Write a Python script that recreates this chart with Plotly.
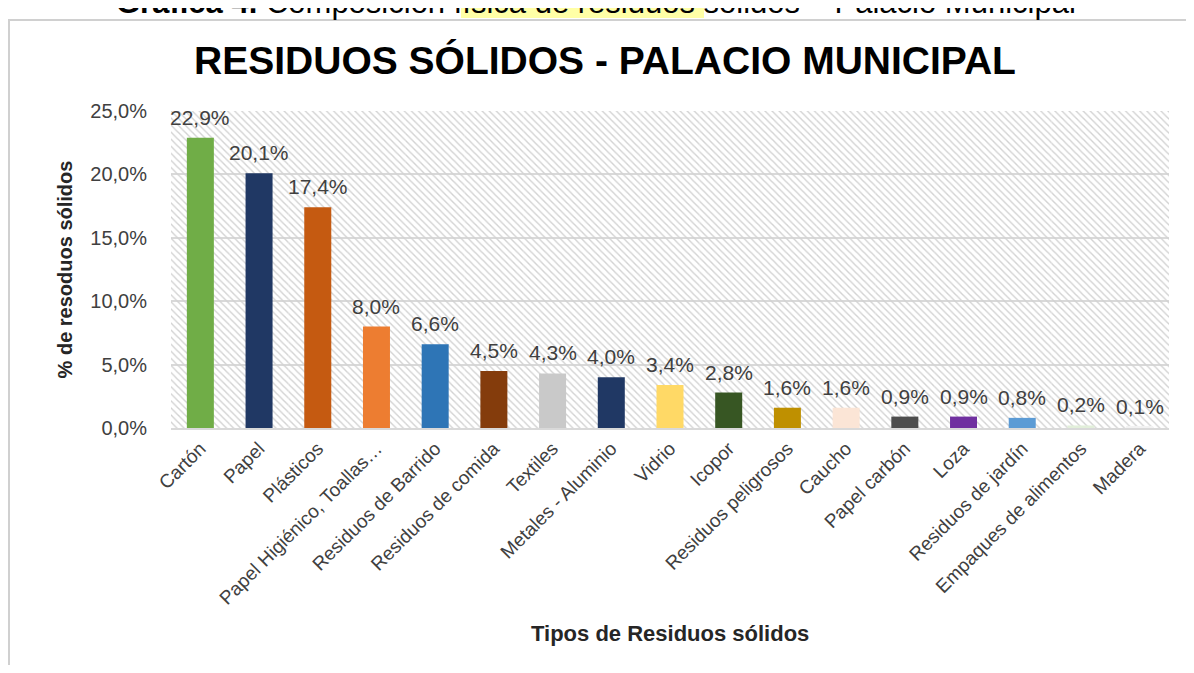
import plotly.graph_objects as go

# datos de la grafica
categorias = ["Cartón", "Papel", "Plásticos", "Papel Higiénico, Toallas…",
              "Residuos de Barrido", "Residuos de comida", "Textiles",
              "Metales - Aluminio", "Vidrio", "Icopor", "Residuos peligrosos",
              "Caucho", "Papel carbón", "Loza", "Residuos de jardín",
              "Empaques de alimentos", "Madera"]
porcentajes = [22.9, 20.1, 17.4, 8.0, 6.6, 4.5, 4.3, 4.0, 3.4, 2.8, 1.6, 1.6,
               0.9, 0.9, 0.8, 0.2, 0.1]
colores = ["#70AD47", "#203864", "#C55A11", "#ED7D31", "#2E75B6", "#843C0C",
           "#C9C9C9", "#203864", "#FFD966", "#375623", "#BF9000", "#FBE5D6",
           "#4D4D4D", "#7030A0", "#5B9BD5", "#E2EFDA", "#F2F2F2"]
ticks_y = [0, 5, 10, 15, 20, 25]

# la pagina deja 8px de margen, asi que la figura ocupa 1178x657
W, H = 1178, 657
ML, MR, MT, MB = 163, 17, 103, 237
pw, ph = W - ML - MR, H - MT - MB

def px_x(p):
  return (p - ML) / pw

def px_y(p):
  return (H - MB - p) / ph

fuente = "Liberation Sans, Arial, sans-serif"
fmt = lambda v: f"{v:.1f}".replace(".", ",") + "%"

fig = go.Figure()

# fondo rayado del area de trazado
fig.add_trace(go.Bar(x=categorias, y=[max(ticks_y)] * len(categorias), width=1,
                     marker=dict(color="rgba(0,0,0,0)", line_width=0,
                                 pattern=dict(shape="\\", fgcolor="#D2D2D2", size=5,
                                              solidity=0.28, fillmode="replace")),
                     hoverinfo="skip", showlegend=False))

fig.add_trace(go.Bar(x=categorias, y=porcentajes, width=0.46,
                     marker=dict(color=colores, line_width=0), showlegend=False))

for c, v in zip(categorias, porcentajes):
  fig.add_annotation(x=c, y=v, text=fmt(v), showarrow=False, yanchor="bottom",
                     yshift=7, font=dict(family=fuente, size=21, color="#404040"))

# titulo del documento (cortado arriba)
fig.add_shape(type="rect", xref="paper", yref="paper", x0=px_x(453), x1=px_x(696),
              y0=px_y(10), y1=px_y(-10), fillcolor="#FFFFA6", line_width=0, layer="below")
fig.add_annotation(xref="paper", yref="paper", x=px_x(588), y=px_y(14), yanchor="bottom",
                   text="<b>Gráfica 4.</b> Composición física de residuos sólidos – Palacio Municipal",
                   showarrow=False, font=dict(family=fuente, size=31, color="#000000"))

# marco
fig.add_shape(type="rect", xref="paper", yref="paper", x0=px_x(1), x1=px_x(1200),
              y0=px_y(700), y1=px_y(12), line=dict(color="#D0D0D0", width=2), layer="below")

# titulo del eje x
fig.add_annotation(xref="paper", yref="paper", x=0.5, y=px_y(625), yanchor="middle",
                   text="<b>Tipos de Residuos sólidos</b>", showarrow=False,
                   font=dict(family=fuente, size=22, color="#262626"))

fig.update_layout(
  width=W, height=H, margin=dict(l=ML, r=MR, t=MT, b=MB),
  barmode="overlay", separators=",.",
  paper_bgcolor="white", plot_bgcolor="white",
  title=dict(text="<b>RESIDUOS SÓLIDOS - PALACIO MUNICIPAL</b>", x=597 / W, xanchor="center",
             y=1 - 52 / H, yanchor="middle",
             font=dict(family=fuente, size=39, color="#000000")),
  xaxis=dict(tickangle=-45, tickfont=dict(family=fuente, size=19, color="#404040"),
             showgrid=False, showline=True, linecolor="#D9D9D9", linewidth=2,
             range=[-0.5, len(categorias) - 0.5]),
  yaxis=dict(range=[0, max(ticks_y)], tickvals=ticks_y, ticktext=[fmt(t) for t in ticks_y],
             tickfont=dict(family=fuente, size=20, color="#404040"),
             ticklabelstandoff=23, showgrid=True, gridcolor="#D9D9D9", gridwidth=2,
             zeroline=False,
             title=dict(text="<b>% de resoduos sólidos</b>", standoff=12,
                        font=dict(family=fuente, size=20, color="#262626"))),
)

fig.write_html("out.html")
